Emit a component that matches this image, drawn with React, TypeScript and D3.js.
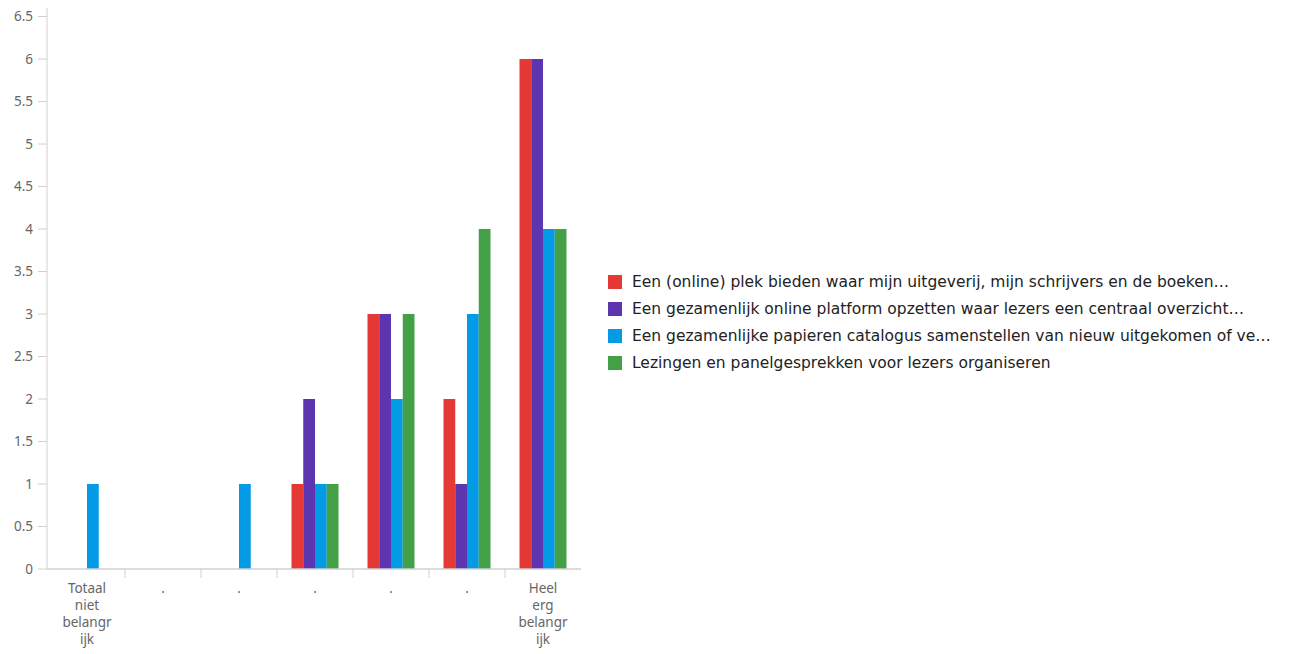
import React from "react";
import * as d3 from "d3";

const categories = ["Totaal niet belangrijk", ".", ".", ".", ".", ".", "Heel erg belangrijk"];
const categoryLines = [["Totaal", "niet", "belangr", "ijk"], ["."], ["."], ["."], ["."], ["."], ["Heel", "erg", "belangr", "ijk"]];
const seriesNames = [
  "Een (online) plek bieden waar mijn uitgeverij, mijn schrijvers en de boeken…",
  "Een gezamenlijk online platform opzetten waar lezers een centraal overzicht…",
  "Een gezamenlijke papieren catalogus samenstellen van nieuw uitgekomen of ve…",
  "Lezingen en panelgesprekken voor lezers organiseren",
];
const redValues = [0, 0, 0, 1, 3, 2, 6];
const purpleValues = [0, 0, 0, 2, 3, 1, 6];
const blueValues = [1, 0, 1, 1, 2, 3, 4];
const greenValues = [0, 0, 0, 1, 3, 4, 4];
const yTicks = [0, 0.5, 1, 1.5, 2, 2.5, 3, 3.5, 4, 4.5, 5, 5.5, 6, 6.5];
const colors = ["#E53935", "#5E35B1", "#039BE5", "#43A047"];

export default function App() {
  const series = [redValues, purpleValues, blueValues, greenValues];
  const left = 47, right = 581, top = 16.5, bottom = 569;
  const x = d3.scaleBand<number>().domain(d3.range(categories.length)).range([49, right]).paddingInner(0).paddingOuter(0);
  const y = d3.scaleLinear().domain([0, 6.5]).range([bottom, top]);
  const groupW = 47;
  const inner = d3.scaleBand<number>().domain(d3.range(series.length)).range([0, groupW]);
  const font = "'Noto Sans', 'Open Sans', sans-serif";
  const legendFont = "'DejaVu Sans', sans-serif";
  return (
    <svg width={1292} height={654} style={{ position: "absolute", left: 0, top: 0 }}>
      <line x1={left} x2={left} y1={8} y2={bottom} stroke="#d0d0d0" strokeWidth={1} />
      {yTicks.map((t) => (
        <g key={t}>
          <line x1={38} x2={left} y1={y(t)} y2={y(t)} stroke="#d0d0d0" />
          <text x={33} y={y(t)} dy="0.35em" textAnchor="end" fontSize={13.5} fill="#666" fontFamily={font}>
            {t}
          </text>
        </g>
      ))}
      {series.map((vals, si) =>
        vals.map((v, ci) => {
          const cx = (x(ci) as number) + x.bandwidth() / 2;
          const bx = cx - groupW / 2 + (inner(si) as number);
          return v > 0 ? (
            <rect key={si + "-" + ci} x={bx} y={y(v)} width={inner.bandwidth()} height={y(0) - y(v)} fill={colors[si]} />
          ) : null;
        })
      )}
      <line x1={left} x2={right} y1={bottom} y2={bottom} stroke="#d0d0d0" strokeWidth={1.5} />
      {d3.range(1, categories.length).map((i) => (
        <line key={i} x1={x(i) as number} x2={x(i) as number} y1={bottom} y2={bottom + 9} stroke="#d0d0d0" />
      ))}
      {categoryLines.map((lines, ci) => (
        <text key={ci} textAnchor="middle" fontSize={13.5} fill="#666" fontFamily={font}>
          {lines.map((l, li) => (
            <tspan key={li} x={(x(ci) as number) + x.bandwidth() / 2} y={593 + li * 17}>
              {l}
            </tspan>
          ))}
        </text>
      ))}
      {seriesNames.map((name, i) => (
        <g key={i}>
          <rect x={608} y={275 + i * 27} width={14} height={14} fill={colors[i]} />
          <text x={632} y={282 + i * 27} dy="0.35em" fontSize={15.5} fill="#222" fontFamily={legendFont}>
            {name}
          </text>
        </g>
      ))}
    </svg>
  );
}
